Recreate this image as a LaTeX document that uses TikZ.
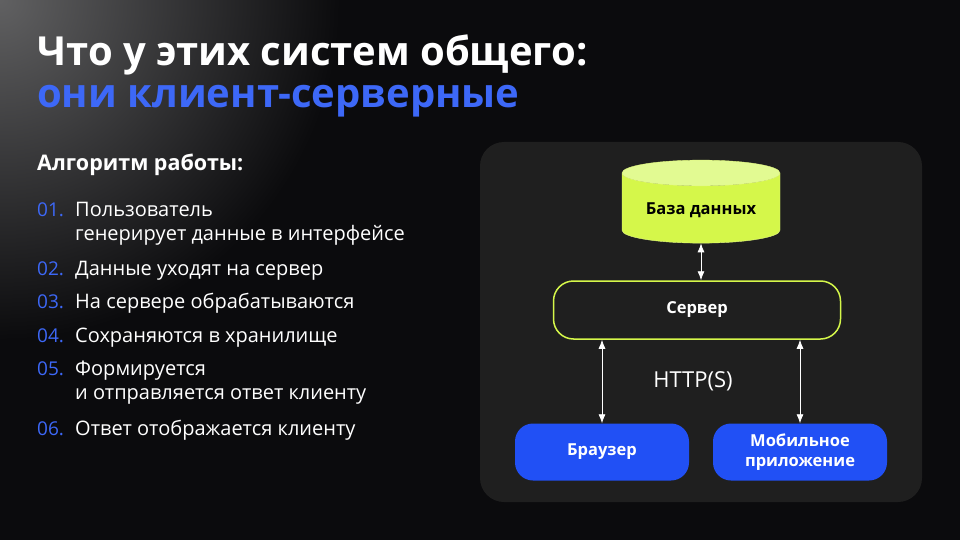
\documentclass[tikz,border=0pt]{standalone}
\usepackage{fontspec}
\setmainfont{Open Sans}
\usetikzlibrary{shapes.geometric,arrows.meta,positioning}
\definecolor{bgdark}{HTML}{0B0B0D}
\definecolor{panel}{HTML}{1F1F1F}
\definecolor{accent}{HTML}{3D68F7}
\definecolor{clientblue}{HTML}{2150F5}
\definecolor{lime}{HTML}{D5F74A}
\definecolor{limetop}{HTML}{E2FA92}

\begin{document}
\begin{tikzpicture}[x=1pt, y=-1pt, >={Latex[length=9pt,width=7pt]},
    ttl/.style={anchor=base west, inner sep=0pt, font=\fontsize{40}{42}\selectfont\bfseries},
    num/.style={anchor=base west, inner sep=0pt, text=accent, font=\fontsize{19}{24}\selectfont},
    item/.style={anchor=base west, inner sep=0pt, text=white, align=left, font=\fontsize{20}{24}\selectfont},
    client/.style={rectangle, rounded corners=18pt, fill=clientblue, minimum width=174pt, minimum height=57pt, text=white, align=center, font=\fontsize{16.5}{20}\selectfont\bfseries},
    ar/.style={white, thick, <->}]
    % background with glow in the corner
    \fill [bgdark] (0,0) rectangle (960,540);
    \begin{scope}
        \clip (0,0) rectangle (960,540);
        \shade [inner color=white!35!bgdark, outer color=bgdark] (0,0) circle (340);
    \end{scope}
    \useasboundingbox (0,0) rectangle (960,540);

    % title
    \node [ttl, text=white] (title) at (37,66) {Что у этих систем общего:};
    \node [ttl, text=accent] (subtitle) at (37,108) {они клиент-серверные};

    % algorithm (base = last line)
    \node [anchor=base west, inner sep=0pt, text=white, font=\fontsize{21.5}{24}\selectfont\bfseries] (algo) at (37,171) {Алгоритм работы:};
    \node [num] (n1) at (37,216) {01.};
    \node [item] (t1) at (75,240) {Пользователь\\генерирует данные в интерфейсе};
    \node [num] (n2) at (37,275) {02.};
    \node [item] (t2) at (75,275) {Данные уходят на сервер};
    \node [num] (n3) at (37,308) {03.};
    \node [item] (t3) at (75,308) {На сервере обрабатываются};
    \node [num] (n4) at (37,342) {04.};
    \node [item] (t4) at (75,342) {Сохраняются в хранилище};
    \node [num] (n5) at (37,375) {05.};
    \node [item] (t5) at (75,399) {Формируется\\и отправляется ответ клиенту};
    \node [num] (n6) at (37,435) {06.};
    \node [item] (t6) at (75,435) {Ответ отображается клиенту};

    % diagram panel
    \fill [panel, rounded corners=24pt] (480,142) rectangle (922,502);
    \node [cylinder, shape border rotate=90, aspect=0.22, minimum height=83pt, minimum width=158pt,
        cylinder uses custom fill, cylinder body fill=lime, cylinder end fill=limetop,
        draw=lime!70!white, thin, font=\fontsize{16.5}{20}\selectfont\bfseries] (db) at (701,210) {База данных};
    \node [rectangle, rounded corners=20pt, draw=lime, line width=1.5pt, fill=panel, minimum width=287pt, minimum height=58pt,
        text=white, font=\fontsize{16.5}{20}\selectfont\bfseries] (srv) at (697,310) {Сервер};
    \node [client] (web) at (602,452) {Браузер};
    \node [client] (mob) at (800,452) {Мобильное\\приложение};
    \node [text=white, font=\fontsize{22}{24}\selectfont] (http) at (693,381) {HTTP(S)};

    \draw [ar] (db.south) -- (srv.north -| db.south);
    \draw [ar] (srv.south -| web.north) -- (web.north);
    \draw [ar] (srv.south -| mob.north) -- (mob.north);
\end{tikzpicture}
\end{document}
